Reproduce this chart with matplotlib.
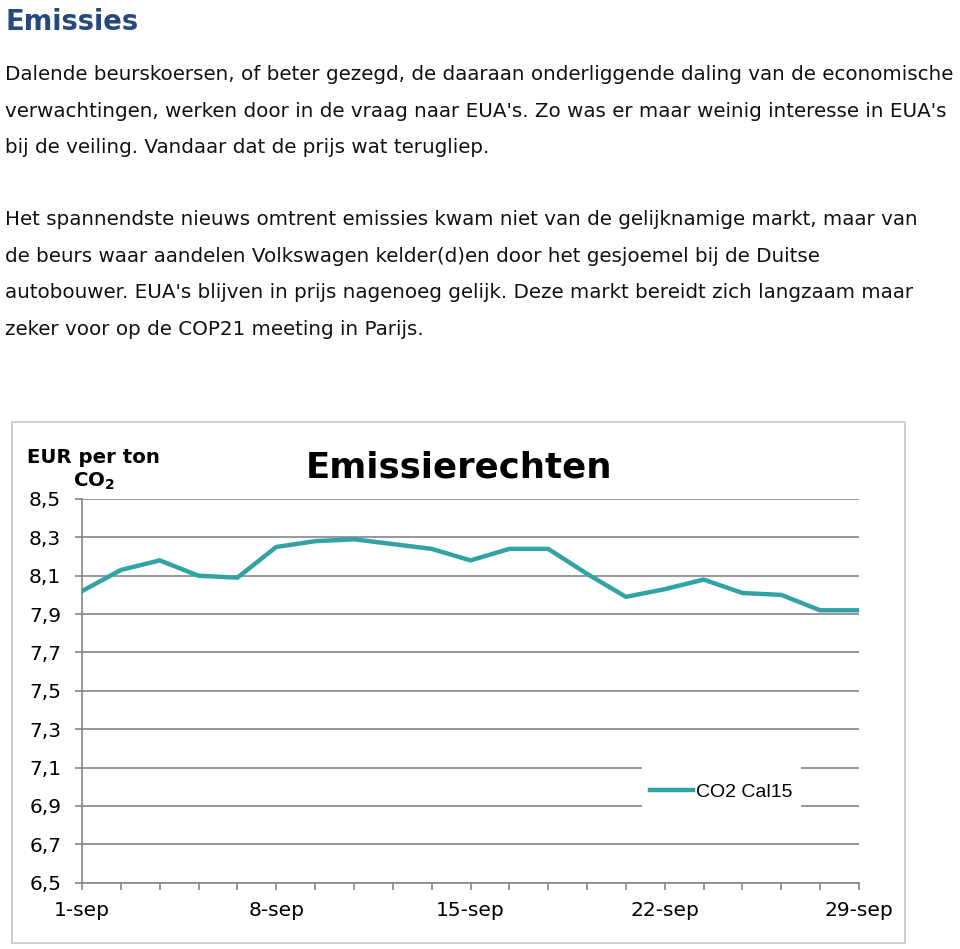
import matplotlib.pyplot as plt
from matplotlib.patches import Rectangle

# koersen CO2 Cal15, handelsdagen september 2015
dagen = list(range(21))
prijs = [8.02, 8.13, 8.18, 8.10, 8.09, 8.25, 8.28, 8.29, 8.265, 8.24, 8.18,
         8.24, 8.24, 8.11, 7.99, 8.03, 8.08, 8.01, 8.00, 7.92, 7.92]
labels = {0: '1-sep', 5: '8-sep', 10: '15-sep', 15: '22-sep', 20: '29-sep'}
yticks = [6.5, 6.7, 6.9, 7.1, 7.3, 7.5, 7.7, 7.9, 8.1, 8.3, 8.5]

alinea1 = ["Dalende beurskoersen, of beter gezegd, de daaraan onderliggende daling van de economische",
           "verwachtingen, werken door in de vraag naar EUA's. Zo was er maar weinig interesse in EUA's",
           "bij de veiling. Vandaar dat de prijs wat terugliep."]
alinea2 = ["Het spannendste nieuws omtrent emissies kwam niet van de gelijknamige markt, maar van",
           "de beurs waar aandelen Volkswagen kelder(d)en door het gesjoemel bij de Duitse",
           "autobouwer. EUA's blijven in prijs nagenoeg gelijk. Deze markt bereidt zich langzaam maar",
           "zeker voor op de COP21 meeting in Parijs."]

plt.rcParams['mathtext.fontset'] = 'dejavusans'

W, H = 960, 949
fig = plt.figure(figsize=(W / 100, H / 100), dpi=100)

def fy(p):
    return 1 - p / H

fig.text(5 / W, fy(29.5), 'Emissies', fontsize=19.8, fontweight='bold',
         color='#23497e', va='baseline', ha='left')
for i, r in enumerate(alinea1):
    fig.text(5 / W, fy(80 + 36.7 * i), r, fontsize=14.3, color='#111111',
             va='baseline', ha='left')
for i, r in enumerate(alinea2):
    fig.text(5 / W, fy(225 + 36.7 * i), r, fontsize=14.3, color='#111111',
             va='baseline', ha='left')

# kader om de grafiek
fig.patches.append(Rectangle((12 / W, fy(943)), (905 - 12) / W, (943 - 422) / H,
                             transform=fig.transFigure, fill=False,
                             edgecolor='#d0d0d0', lw=1.5))

ax = fig.add_axes([82 / W, fy(882.7), (859 - 82) / W, (882.7 - 499) / H])
grijs = '#868686'
ax.plot(dagen, prijs, color='#31a3a4', lw=3.2, solid_joinstyle='miter',
        label='CO2 Cal15', zorder=3)
ax.set_xlim(0, 20)
ax.set_ylim(6.5, 8.5)
ax.set_xticks(dagen)
ax.set_xticklabels([labels.get(d, '') for d in dagen])
ax.set_yticks(yticks)
ax.set_yticklabels([f'{v:.1f}'.replace('.', ',') for v in yticks])
ax.grid(axis='y', color=grijs, lw=1.2)
ax.set_axisbelow(True)
for s in ['top', 'right']:
    ax.spines[s].set_visible(False)
for s in ['left', 'bottom']:
    ax.spines[s].set_color(grijs)
    ax.spines[s].set_linewidth(1.2)
ax.tick_params(axis='both', colors=grijs, length=5, width=1.2,
               labelcolor='black', labelsize=14.5)
ax.tick_params(axis='x', pad=8)
ax.tick_params(axis='y', pad=10)

# witte ondergrond legenda
ax.add_patch(Rectangle((0.7207, 0.137), 0.2047, 0.196, transform=ax.transAxes,
                       facecolor='white', edgecolor='none', zorder=2))
ax.legend(loc='center', bbox_to_anchor=(0.823, 0.236), frameon=False,
          handlelength=2.2, handletextpad=0.15,
          prop={'family': 'Liberation Sans', 'size': 14})

fig.text(459 / W, fy(477.3), 'Emissierechten', fontsize=25.6, fontweight='bold',
         ha='center', va='baseline')
fig.text(93.5 / W, fy(462.7), 'EUR per ton', fontsize=14.2, fontweight='bold',
         ha='center', va='baseline')
fig.text(93.5 / W, fy(486.7), r'CO$_\mathbf{2}$', fontsize=14.2, fontweight='bold',
         ha='center', va='baseline')

fig.savefig('out.png', dpi=100)
